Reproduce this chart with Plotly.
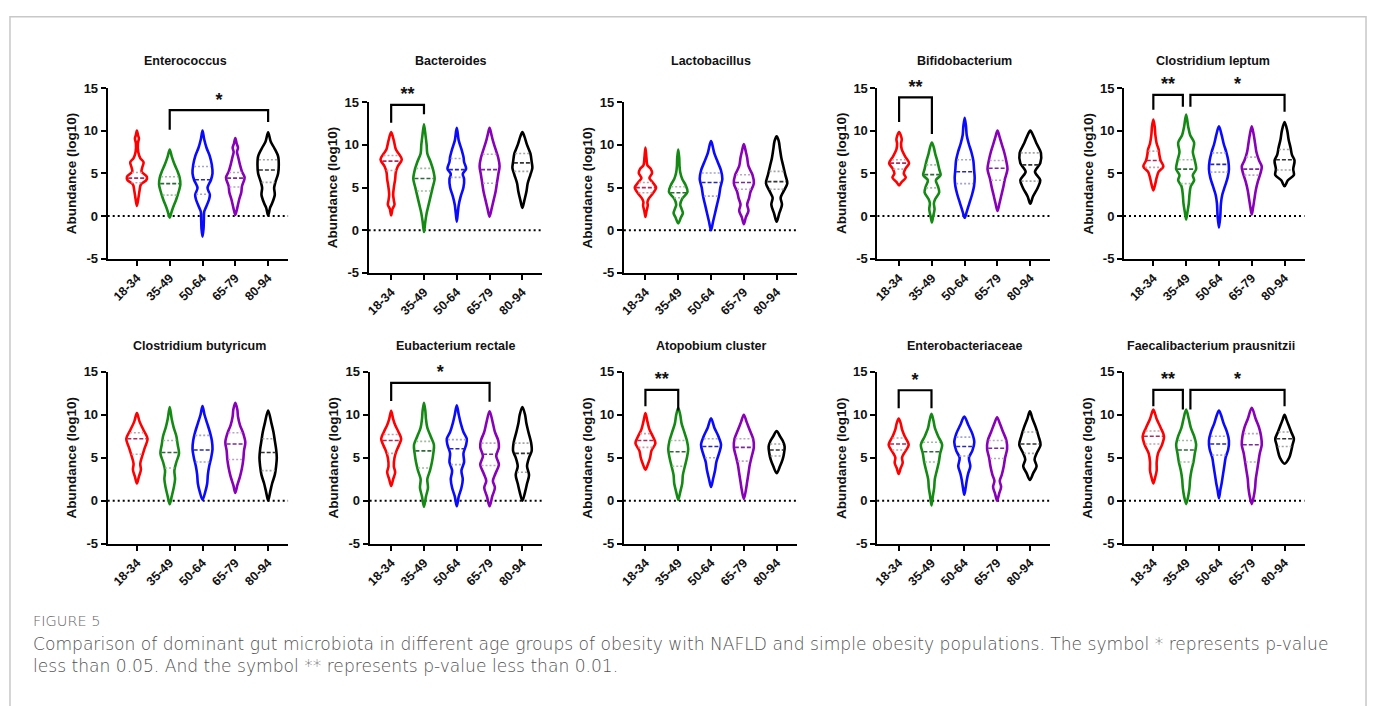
import numpy as np
import plotly.graph_objects as go

W, H = 1373, 706

# ---------------- data ----------------
groups = ["18-34", "35-49", "50-64", "65-79", "80-94"]
panel_names = ["Enterococcus", "Bacteroides", "Lactobacillus", "Bifidobacterium",
               "Clostridium leptum", "Clostridium butyricum", "Eubacterium rectale",
               "Atopobium cluster", "Enterobacteriaceae", "Faecalibacterium prausnitzii"]
y_ticks = [-5, 0, 5, 10, 15]
y_tick_labels = ["-5", "0", "5", "10", "15"]

# each violin: [value, relative density] pairs, bottom -> top
enterococcus_profiles = [
    [[1.2, 0], [2, 4], [3, 8], [3.7, 12], [4.2, 28], [4.6, 30], [5.2, 14], [5.7, 16], [6.3, 20], [6.8, 10], [7.5, 4], [8.5, 3], [9.1, 6], [9.5, 3], [10, 0]],
    [[-0.2, 0], [0.3, 4], [1, 10], [2, 20], [3, 28], [3.7, 32], [4.5, 30], [5.2, 24], [6, 15], [7, 6], [7.8, 0]],
    [[-2.4, 0], [-1.5, 3], [-0.5, 4], [0.5, 5], [1, 10], [2, 20], [2.5, 22], [3.3, 15], [4.2, 25], [5, 30], [6, 28], [7, 22], [8, 12], [9, 5], [10, 0]],
    [[0.15, 0], [1, 6], [2, 12], [2.8, 18], [3.5, 20], [4.5, 28], [5.2, 20], [6, 14], [7, 8], [7.5, 5], [8, 8], [8.5, 4], [9.15, 0]],
    [[0.05, 0], [1, 6], [1.5, 12], [2.5, 20], [3.3, 18], [4, 22], [5, 30], [6, 32], [7, 30], [8, 18], [8.7, 8], [9.8, 0]],
]
enterococcus_quartiles = [[3.9, 4.45, 5.1], [2.45, 3.8, 4.6], [2.55, 4.25, 5.8], [3.4, 4.45, 5.1], [3.95, 5.4, 6.6]]
enterococcus_brackets = [[1, 4, 10.1, 11.0, 12.4, "*"]]

bacteroides_profiles = [
    [[1.75, 0], [2.5, 4], [3, 10], [3.5, 8], [4.2, 6], [5, 8], [6, 12], [6.8, 14], [7.5, 20], [8.3, 32], [9, 22], [9.5, 14], [10.5, 8], [11.5, 0]],
    [[-0.2, 0], [1, 4], [2, 8], [3, 14], [4, 20], [5, 26], [6, 32], [7, 28], [8, 20], [9, 10], [10, 8], [11, 5], [12.4, 0]],
    [[1, 0], [2, 3], [3, 6], [4, 12], [5, 20], [6, 22], [6.6, 18], [7.2, 28], [8, 22], [8.6, 20], [9.5, 14], [10.5, 6], [12, 0]],
    [[1.6, 0], [2.5, 6], [3.5, 12], [4.5, 18], [5.5, 22], [6.5, 26], [7.5, 30], [8.5, 26], [9.5, 18], [10.5, 10], [11.3, 5], [12, 0]],
    [[2.6, 0], [3.5, 6], [4.5, 12], [5.5, 16], [6.5, 24], [7.3, 30], [8, 28], [9, 24], [10, 14], [11, 6], [11.5, 0]],
]
bacteroides_quartiles = [[7.0, 8.1, 8.75], [4.6, 6.07, 7.25], [6.2, 7.1, 8.4], [5.5, 7.1, 8.9], [6.9, 7.9, 9.0]]
bacteroides_brackets = [[0, 1, 12.6, 13.6, 14.7, "**"]]

lactobacillus_profiles = [
    [[1.55, 0], [2.2, 3], [2.9, 7], [3.3, 6], [3.7, 10], [4.3, 22], [5, 32], [5.6, 22], [6.1, 12], [6.7, 20], [7.2, 16], [7.6, 6], [8.5, 3], [9.7, 0]],
    [[0.8, 0], [1.5, 8], [2, 14], [2.5, 10], [3, 6], [3.7, 12], [4.5, 28], [5.3, 22], [6, 12], [6.8, 6], [7.5, 4], [8.5, 3], [9.45, 0]],
    [[0, 0], [1, 6], [2, 12], [3, 18], [4, 24], [5, 28], [6, 34], [7, 30], [8, 20], [9, 10], [10, 4], [10.45, 0]],
    [[0.7, 0], [1.5, 6], [2.3, 14], [3, 10], [3.8, 16], [4.5, 20], [5.5, 30], [6.5, 26], [7.5, 14], [8.5, 10], [9.2, 6], [10.1, 0]],
    [[1, 0], [2, 8], [3, 16], [3.8, 12], [4.5, 20], [5.5, 32], [6.5, 26], [7.5, 20], [8.5, 14], [9.5, 10], [10.5, 6], [11, 0]],
]
lactobacillus_quartiles = [[4.4, 5.0, 5.6], [3.8, 4.4, 5.1], [4.0, 5.6, 6.7], [4.8, 5.6, 6.5], [4.8, 5.7, 6.9]]
lactobacillus_brackets = []

bifidobacterium_profiles = [
    [[3.6, 0], [4, 8], [4.5, 20], [5, 14], [5.6, 20], [6.2, 30], [7, 18], [7.8, 8], [8.5, 6], [9, 8], [9.85, 0]],
    [[-0.75, 0], [0, 4], [0.8, 8], [1.5, 6], [2, 10], [2.8, 22], [3.5, 18], [4.2, 12], [4.8, 26], [5.5, 22], [6.5, 16], [7.3, 10], [8, 6], [8.6, 0]],
    [[-0.2, 0], [0.5, 6], [1.5, 14], [2.5, 22], [3.5, 28], [4.5, 30], [5.5, 28], [6.5, 26], [7.5, 20], [8.5, 12], [9.5, 6], [10.5, 4], [11.5, 0]],
    [[0.6, 0], [1.5, 6], [2.5, 12], [3.5, 18], [4.3, 22], [5.5, 30], [6.5, 26], [7.5, 20], [8.5, 12], [9.3, 6], [10, 0]],
    [[1.45, 0], [2.3, 8], [3.3, 22], [4.2, 30], [5.2, 14], [6.2, 30], [7.4, 32], [8.4, 20], [9.3, 10], [10, 0]],
]
bifidobacterium_quartiles = [[5.5, 6.2, 6.6], [3.3, 4.85, 6.0], [3.8, 5.2, 6.6], [4.2, 5.6, 6.5], [4.1, 6.0, 7.4]]
bifidobacterium_brackets = [[0, 1, 11.0, 9.6, 13.9, "**"]]

clostridium_leptum_profiles = [
    [[3.0, 0], [3.8, 6], [4.5, 10], [5.2, 16], [5.8, 30], [6.5, 22], [7.2, 18], [7.8, 16], [8.5, 10], [9.5, 6], [10.5, 4], [11.3, 0]],
    [[-0.4, 0], [0.5, 4], [1.5, 8], [2.5, 10], [3.5, 14], [4.2, 24], [4.8, 20], [5.5, 30], [6.5, 26], [7.5, 20], [8.6, 24], [9.5, 12], [10.5, 6], [11.9, 0]],
    [[-1.35, 0], [0, 4], [1.5, 6], [2.5, 10], [3.5, 18], [4.5, 26], [5.5, 30], [6.5, 28], [7.5, 22], [8.5, 14], [9.5, 8], [10.5, 0]],
    [[0.2, 0], [1, 4], [2, 8], [3, 12], [4, 18], [5, 26], [5.8, 30], [6.5, 22], [7.5, 14], [8.5, 10], [9.5, 6], [10.5, 0]],
    [[3.5, 0], [4.2, 10], [4.8, 28], [5.5, 26], [6.5, 30], [7.2, 22], [8, 18], [9, 12], [10, 8], [11, 0]],
]
clostridium_leptum_quartiles = [[5.7, 6.5, 7.6], [3.8, 5.5, 6.6], [5.15, 6.05, 7.4], [4.8, 5.5, 6.9], [5.4, 6.6, 7.8]]
clostridium_leptum_brackets = [[0, 0.9, 12.45, 12.8, 14.2, "**"], [1.13, 4, 12.8, 12.2, 14.2, "*"]]

clostridium_butyricum_profiles = [
    [[2, 0], [2.8, 6], [3.6, 12], [4.3, 10], [5.2, 16], [6.2, 24], [7.2, 32], [8.2, 20], [9.2, 8], [10.2, 0]],
    [[-0.4, 0], [0.5, 6], [1.5, 12], [2.5, 16], [3.5, 14], [4.5, 20], [5.5, 28], [6.5, 24], [7.5, 20], [8.5, 12], [9.5, 6], [10.9, 0]],
    [[0.1, 0], [1, 8], [2, 14], [3, 16], [4, 20], [5, 26], [6, 30], [7, 28], [8, 22], [9, 14], [10, 6], [11, 0]],
    [[0.9, 0], [1.8, 6], [2.8, 14], [3.8, 20], [4.8, 24], [5.8, 26], [6.8, 30], [7.8, 24], [8.8, 14], [9.8, 8], [10.6, 6], [11.4, 0]],
    [[0, 0], [1, 6], [2, 12], [3, 20], [4, 24], [5, 26], [6, 24], [7, 20], [8, 16], [9, 10], [10.5, 0]],
]
clostridium_butyricum_quartiles = [[5.4, 7.2, 7.9], [3.8, 5.6, 7.0], [4.5, 5.9, 7.6], [4.8, 6.6, 7.9], [3.5, 5.6, 7.2]]
clostridium_butyricum_brackets = []

eubacterium_rectale_profiles = [
    [[1.7, 0], [2.5, 6], [3.3, 12], [4, 8], [5, 10], [5.8, 16], [6.5, 24], [7.2, 30], [8, 22], [8.8, 12], [9.5, 6], [10.45, 0]],
    [[-0.7, 0], [0.5, 6], [1.5, 12], [2.5, 10], [3.5, 18], [4.5, 24], [5.5, 28], [6.5, 30], [7.5, 20], [8.5, 10], [9.5, 6], [10.5, 4], [11.4, 0]],
    [[-0.65, 0], [0.5, 6], [1.5, 14], [2.5, 18], [3.5, 14], [4.5, 22], [5.5, 20], [6.5, 28], [7.2, 30], [8, 20], [9, 12], [10, 6], [11.1, 0]],
    [[-0.65, 0], [0.5, 8], [1.5, 16], [2.3, 10], [3.2, 18], [4.2, 28], [5.2, 20], [6.2, 28], [7, 26], [8, 16], [9, 10], [10.4, 0]],
    [[0, 0], [1, 8], [2, 14], [3, 20], [4, 14], [5, 20], [5.8, 28], [6.8, 26], [8, 18], [9, 12], [10, 8], [10.9, 0]],
]
eubacterium_rectale_quartiles = [[5.5, 7.0, 7.7], [3.8, 5.8, 6.9], [4.2, 6.05, 7.1], [4.1, 5.4, 6.7], [3.3, 5.5, 6.7]]
eubacterium_rectale_brackets = [[0, 3, 11.6, 11.5, 13.7, "*"]]

atopobium_profiles = [
    [[3.6, 0], [4.3, 8], [5, 14], [5.8, 18], [6.7, 30], [7.5, 22], [8.3, 12], [9.2, 6], [10.2, 0]],
    [[0.1, 0], [1, 6], [2, 12], [3, 14], [4, 20], [5, 26], [6, 30], [7, 26], [8, 18], [9, 10], [10, 6], [10.8, 0]],
    [[1.6, 0], [2.5, 6], [3.5, 12], [4.5, 16], [5.5, 24], [6.5, 30], [7.5, 22], [8.5, 10], [9.6, 0]],
    [[0.2, 0], [1.2, 6], [2.2, 10], [3.2, 14], [4.2, 18], [5.2, 24], [6.2, 30], [7.2, 28], [8.2, 18], [9.2, 8], [10, 0]],
    [[3.2, 0], [4, 10], [4.8, 18], [5.5, 22], [6.3, 24], [7, 18], [7.5, 10], [8.1, 0]],
]
atopobium_quartiles = [[6.2, 7.0, 7.8], [4.0, 5.7, 7.0], [5.0, 6.3, 7.2], [4.6, 6.2, 7.2], [5.2, 5.9, 6.6]]
atopobium_brackets = [[0, 1, 11.0, 10.5, 12.9, "**"]]

enterobacteriaceae_profiles = [
    [[3.1, 0], [3.8, 6], [4.4, 12], [5, 10], [5.5, 16], [6.5, 30], [7.5, 18], [8.3, 10], [9, 6], [9.55, 0]],
    [[-0.55, 0], [0.5, 4], [1.5, 8], [2.5, 10], [3.5, 16], [4.5, 22], [5.5, 26], [6.5, 32], [7.5, 20], [8.5, 10], [9.3, 6], [10.1, 0]],
    [[0.7, 0], [1.5, 4], [2.5, 8], [3.2, 12], [4, 18], [5, 14], [5.8, 24], [6.8, 30], [7.8, 24], [8.8, 12], [9.8, 0]],
    [[0, 0], [0.8, 6], [1.6, 12], [2.3, 8], [3, 14], [4, 20], [5, 24], [6, 30], [7, 28], [8, 18], [9, 8], [9.7, 0]],
    [[2.4, 0], [3.2, 10], [4, 20], [4.8, 14], [5.5, 20], [6.5, 32], [7.5, 26], [8.5, 18], [9.5, 8], [10.4, 0]],
]
enterobacteriaceae_quartiles = [[5.9, 6.6, 7.3], [4.5, 5.7, 6.8], [5.2, 6.3, 7.4], [4.9, 6.1, 7.0], [5.5, 6.6, 8.0]]
enterobacteriaceae_brackets = [[0, 1, 10.75, 10.75, 12.85, "*"]]

faecalibacterium_profiles = [
    [[2, 0], [2.8, 6], [3.5, 10], [4.5, 10], [5.5, 14], [6.5, 26], [7.5, 32], [8.5, 22], [9.5, 10], [10.6, 0]],
    [[-0.4, 0], [0.5, 6], [1.5, 10], [2.5, 12], [3.5, 16], [4.5, 22], [5.5, 26], [6.5, 30], [7.5, 24], [8.5, 14], [9.5, 8], [10.6, 0]],
    [[0.3, 0], [1.2, 4], [2, 8], [3, 12], [4, 16], [5, 20], [6, 28], [7, 30], [8, 24], [9, 14], [10, 6], [10.5, 0]],
    [[-0.4, 0], [0.5, 6], [1.5, 10], [2.5, 12], [3.5, 16], [4.5, 20], [5.5, 24], [6.5, 30], [7.5, 28], [8.5, 22], [9.5, 12], [10.8, 0]],
    [[4.3, 0], [5, 14], [5.8, 20], [6.5, 24], [7.2, 28], [8, 20], [8.8, 12], [9.4, 6], [10, 0]],
]
faecalibacterium_quartiles = [[6.6, 7.5, 8.1], [4.5, 5.9, 7.0], [5.3, 6.6, 7.5], [4.5, 6.5, 7.8], [6.3, 7.2, 8.0]]
faecalibacterium_brackets = [[0, 0.9, 11.0, 10.6, 12.9, "**"], [1.13, 4, 10.6, 11.0, 12.9, "*"]]

all_profiles = [enterococcus_profiles, bacteroides_profiles, lactobacillus_profiles,
                bifidobacterium_profiles, clostridium_leptum_profiles,
                clostridium_butyricum_profiles, eubacterium_rectale_profiles,
                atopobium_profiles, enterobacteriaceae_profiles, faecalibacterium_profiles]
all_quartiles = [enterococcus_quartiles, bacteroides_quartiles, lactobacillus_quartiles,
                 bifidobacterium_quartiles, clostridium_leptum_quartiles,
                 clostridium_butyricum_quartiles, eubacterium_rectale_quartiles,
                 atopobium_quartiles, enterobacteriaceae_quartiles, faecalibacterium_quartiles]
all_brackets = [enterococcus_brackets, bacteroides_brackets, lactobacillus_brackets,
                bifidobacterium_brackets, clostridium_leptum_brackets,
                clostridium_butyricum_brackets, eubacterium_rectale_brackets,
                atopobium_brackets, enterobacteriaceae_brackets, faecalibacterium_brackets]

caption_label = "FIGURE 5"
caption_lines = [
    "Comparison of dominant gut microbiota in different age groups of obesity with NAFLD and simple obesity populations. The symbol * represents p-value",
    "less than 0.05. And the symbol ** represents p-value less than 0.01.",
]

# ---------------- styles / layout ----------------
colors = ["#ff0000", "#148a14", "#0a0aff", "#8800b8", "#000000"]
median_colors = ["#b02a5a", "#2f6a3a", "#2a2ab0", "#7a2a9a", "#333333"]
quart_colors = ["#c8a0aa", "#a0bca0", "#a4a4cc", "#bca4c4", "#a4a4a4"]
DENS_SCALE = 1.0 / 98.5  # relative density -> category units
SPACING = 32.9           # px per category

ROW1A = (82.7, 257.3)
ROW1B = (97.3, 271.7)
ROW2 = (372.7, 548.3)
# (axis-line px, first-category px, (top px, bottom px), title x px, title y px)
panel_geom = [
    (104.0, 133.3, ROW1A, 181.7, 55),
    (365.7, 388.3, ROW1B, 448.0, 55),
    (621.7, 643.3, ROW1B, 709.0, 55),
    (876.0, 897.7, ROW1A, 963.0, 55),
    (1123.3, 1152.7, ROW1A, 1213.0, 55),
    (104.0, 133.3, ROW2, 196.0, 346),
    (366.7, 388.3, ROW2, 453.0, 346),
    (621.7, 643.3, ROW2, 710.0, 346),
    (875.7, 897.3, ROW2, 963.0, 346),
    (1123.3, 1152.7, ROW2, 1211.0, 346),
]

BOLD = dict(family="Liberation Sans, Arial, sans-serif", color="#111111", weight="bold")

fig = go.Figure()
layout = dict(width=W, height=H, margin=dict(l=0, r=0, t=0, b=0),
              paper_bgcolor="white", plot_bgcolor="white", showlegend=False)
annotations = []
shapes = []

for i, name in enumerate(panel_names):
    ax_px, first_px, (top_px, bot_px), tx, ty = panel_geom[i]
    last_px = first_px + 4 * SPACING
    right_px = last_px + 20
    x_lo = -(first_px - ax_px) / SPACING
    x_hi = 4 + (right_px - last_px) / SPACING
    n = "" if i == 0 else str(i + 1)
    xa, ya = "x" + n, "y" + n
    layout["xaxis" + n] = dict(
        domain=[ax_px / W, right_px / W], range=[x_lo, x_hi], anchor=ya,
        tickmode="array", tickvals=list(range(5)), ticktext=groups, tickangle=-45,
        ticks="outside", ticklen=5, tickwidth=2, tickcolor="black",
        showline=True, linecolor="black", linewidth=2, showgrid=False, zeroline=False,
        tickfont=dict(size=12.5, **BOLD), fixedrange=True)
    layout["yaxis" + n] = dict(
        domain=[1 - bot_px / H, 1 - top_px / H], range=[-5, 15], anchor=xa,
        tickmode="array", tickvals=y_ticks, ticktext=y_tick_labels, ticks="outside",
        ticklen=5, tickwidth=2, tickcolor="black", showline=True, linecolor="black",
        linewidth=2, showgrid=False, zeroline=False, tickfont=dict(size=13, **BOLD),
        fixedrange=True)

    shapes.append(dict(type="line", xref=xa + " domain", yref=ya, x0=0, x1=1, y0=0, y1=0,
                       line=dict(color="black", width=2, dash="2px,3px"), layer="below"))

    for g in range(5):
        prof = np.array(all_profiles[i][g], dtype=float)
        ys = prof[:, 0]
        ws = prof[:, 1] * DENS_SCALE
        xr = list(g + ws)
        xl = list(g - ws[::-1])[1:]
        yy = list(ys) + list(ys[::-1])[1:]
        fig.add_trace(go.Scatter(
            x=xr + xl, y=yy, xaxis=xa, yaxis=ya, mode="lines",
            line=dict(color=colors[g], width=2.6, shape="spline", smoothing=0.9),
            fill="toself", fillcolor="white", hoverinfo="skip"))
        q1, med, q3 = all_quartiles[i][g]
        for val, col, dash in ((q1, quart_colors[g], "2px,2px"), (q3, quart_colors[g], "2px,2px"),
                               (med, median_colors[g], "4px,2px")):
            w = float(np.interp(val, ys, ws)) * 0.9
            fig.add_trace(go.Scatter(
                x=[g - w, g + w], y=[val, val], xaxis=xa, yaxis=ya, mode="lines",
                line=dict(color=col, width=1.6, dash=dash), hoverinfo="skip"))

    for (b0, b1, leg0, leg1, top, lab) in all_brackets[i]:
        fig.add_trace(go.Scatter(
            x=[b0, b0, b1, b1], y=[leg0, top, top, leg1], xaxis=xa, yaxis=ya,
            mode="lines", line=dict(color="black", width=2.2), hoverinfo="skip"))
        fig.add_trace(go.Scatter(
            x=[(b0 + b1) / 2], y=[top], xaxis=xa, yaxis=ya, mode="text",
            text=[lab], textposition="top center", cliponaxis=False,
            textfont=dict(size=18, **BOLD), hoverinfo="skip"))

    annotations.append(dict(text=name, x=tx / W, y=1 - ty / H, xref="paper", yref="paper",
                            showarrow=False, xanchor="center", yanchor="middle",
                            font=dict(size=12.5, **BOLD)))
    annotations.append(dict(text="Abundance (log10)", x=(ax_px - 36) / W,
                            y=1 - (top_px + bot_px) / 2 / H, xref="paper", yref="paper",
                            showarrow=False, textangle=-90, xanchor="center", yanchor="middle",
                            font=dict(size=13.5, **BOLD)))

cap_family = "DejaVu Sans ExtraLight, DejaVu Sans, sans-serif"
annotations.append(dict(text=caption_label, x=27 / W, y=1 - 627 / H, xref="paper", yref="paper",
                        showarrow=False, xanchor="left", yanchor="middle",
                        font=dict(size=14.5, family=cap_family, color="#666666", weight=200)))
for k, line in enumerate(caption_lines):
    annotations.append(dict(text=line, x=27 / W, y=1 - (651 + 22 * k) / H, xref="paper",
                            yref="paper", showarrow=False, xanchor="left", yanchor="middle",
                            font=dict(size=17.1, family=cap_family, color="#505050", weight=200)))

shapes.append(dict(type="rect", xref="paper", yref="paper", x0=6 / W, x1=1366 / W,
                   y0=-0.05, y1=1 - 10 / H, line=dict(color="#c8c8c8", width=1.5)))

layout["annotations"] = annotations
layout["shapes"] = shapes
fig.update_layout(**layout)
fig.write_html("out.html", config={"displayModeBar": False},
               post_script="document.body.style.margin='0';document.body.style.overflow='hidden';")
